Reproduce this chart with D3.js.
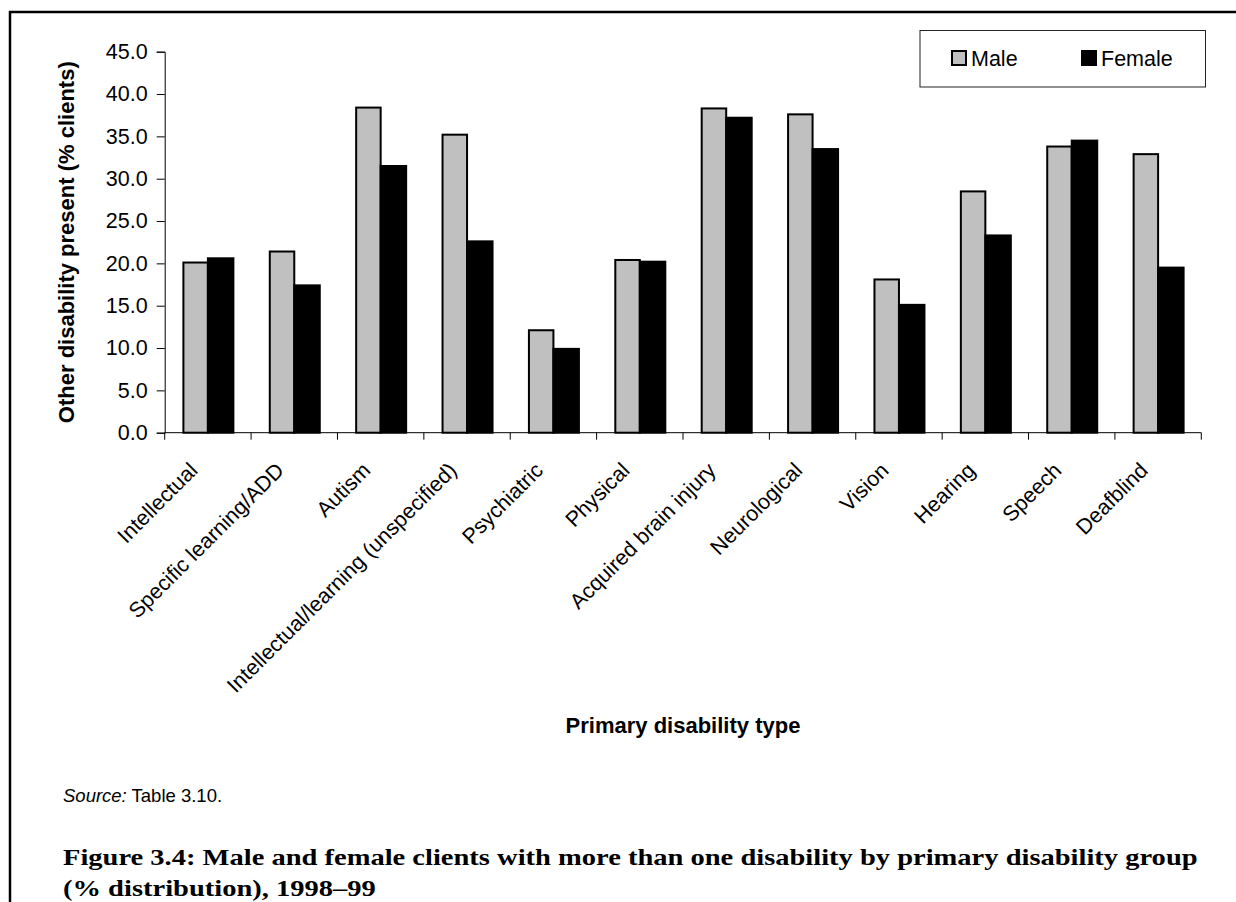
<!DOCTYPE html>
<html>
<head>
<meta charset="utf-8">
<script src="https://cdn.jsdelivr.net/npm/d3@7"></script>
<style>
  html, body { margin: 0; padding: 0; background: #fff; }
  svg text { font-family: "Liberation Sans", Arial, sans-serif; fill: #000; }
</style>
</head>
<body>
<svg id="chart" width="1236" height="902"></svg>
<script>
// Primary disability groups along the category axis
const categories = [
  "Intellectual", "Specific learning/ADD", "Autism",
  "Intellectual/learning (unspecified)", "Psychiatric", "Physical",
  "Acquired brain injury", "Neurological", "Vision", "Hearing",
  "Speech", "Deafblind"
];
// Share of clients with another disability present (%)
const maleValues   = [20.1, 21.4, 38.4, 35.2, 12.1, 20.4, 38.3, 37.6, 18.1, 28.5, 33.8, 32.9];
const femaleValues = [20.6, 17.4, 31.5, 22.6, 9.9, 20.2, 37.2, 33.5, 15.1, 23.3, 34.5, 19.5];
const seriesNames  = ["Male", "Female"];
const yTicks       = [0, 5, 10, 15, 20, 25, 30, 35, 40, 45];

const svg = d3.select("#chart");

// page frame (top and left rules)
svg.append("path")
  .attr("d", "M10,902 L10,12 L1240,12")
  .attr("fill", "none").attr("stroke", "#000").attr("stroke-width", 2.5);

const plot = { left: 164.7, right: 1201.3, top: 51.7, bottom: 432.7 };

const x0 = d3.scaleBand().domain(categories).range([plot.left, plot.right]).padding(0);
const x1 = d3.scaleBand().domain(seriesNames).range([0, x0.bandwidth()])
  .paddingInner(0).paddingOuter(0.694);
const y = d3.scaleLinear().domain([0, 45]).range([plot.bottom, plot.top]);

const fills = { Male: "#c0c0c0", Female: "#000" };
const rows = categories.map((c, i) => ({ cat: c, Male: maleValues[i], Female: femaleValues[i] }));

// bars
const groups = svg.append("g").selectAll("g").data(rows).join("g")
  .attr("transform", d => `translate(${x0(d.cat)},0)`);
groups.selectAll("rect")
  .data(d => seriesNames.map(s => ({ s, v: d[s] })))
  .join("rect")
  .attr("x", d => x1(d.s) + (d.s === "Male" ? 1 : 0))
  .attr("width", d => x1.bandwidth() - (d.s === "Male" ? 1 : 0))
  .attr("y", d => y(d.v))
  .attr("height", d => y(0) - y(d.v))
  .attr("fill", d => fills[d.s])
  .attr("stroke", "#000")
  .attr("stroke-width", 2);

// y axis
const yAxis = svg.append("g").attr("transform", `translate(${plot.left},0)`)
  .call(d3.axisLeft(y).tickValues(yTicks).tickFormat(d3.format(".1f")).tickSizeOuter(0).tickSize(8).tickPadding(9));
yAxis.selectAll("text").style("font-size", "21.5px");
yAxis.select(".domain").attr("stroke", "#000");

// x axis: ticks at category boundaries
const xg = svg.append("g");
xg.append("line")
  .attr("x1", plot.left).attr("x2", plot.right)
  .attr("y1", plot.bottom).attr("y2", plot.bottom)
  .attr("stroke", "#000");
const bounds = categories.map(c => x0(c)).concat([plot.right]);
xg.selectAll("line.tick").data(bounds).join("line")
  .attr("class", "tick")
  .attr("x1", d => d).attr("x2", d => d)
  .attr("y1", plot.bottom).attr("y2", plot.bottom + 7)
  .attr("stroke", "#000");
xg.selectAll("text").data(categories).join("text")
  .attr("transform", d => `translate(${x0(d) + x0.bandwidth() / 2 - 9},${plot.bottom + 39}) rotate(-45)`)
  .attr("text-anchor", "end")
  .style("font-size", "21.5px")
  .text(d => d);

// axis titles
svg.append("text")
  .attr("transform", `translate(74,${(plot.top + plot.bottom) / 2}) rotate(-90)`)
  .attr("text-anchor", "middle")
  .style("font-size", "22px").style("font-weight", "bold")
  .text("Other disability present (% clients)");
svg.append("text")
  .attr("x", (plot.left + plot.right) / 2).attr("y", 733)
  .attr("text-anchor", "middle")
  .style("font-size", "22px").style("font-weight", "bold")
  .text("Primary disability type");

// legend
const lg = svg.append("g");
lg.append("rect").attr("x", 920).attr("y", 30.5).attr("width", 285.5).attr("height", 56.5)
  .attr("fill", "#fff").attr("stroke", "#222").attr("stroke-width", 1);
const legendX = { Male: 952, Female: 1082 };
seriesNames.forEach(s => {
  lg.append("rect").attr("x", legendX[s]).attr("y", 51).attr("width", 14).attr("height", 14)
    .attr("fill", fills[s]).attr("stroke", "#000").attr("stroke-width", 2);
  lg.append("text").attr("x", legendX[s] + 19).attr("y", 66)
    .style("font-size", "21.5px").text(s);
});

// source note
const src = svg.append("text").attr("x", 63).attr("y", 802).style("font-size", "18.5px");
src.append("tspan").style("font-style", "italic").text("Source:");
src.append("tspan").text(" Table 3.10.");

// figure caption, two lines sharing one horizontal stretch
const capLines = [
  "Figure 3.4: Male and female clients with more than one disability by primary disability group",
  "(% distribution), 1998–99"
];
const cap = svg.append("g");
const capText = cap.selectAll("text").data(capLines).join("text")
  .attr("y", (d, i) => 865 + i * 31)
  .style("font-family", "'Liberation Serif', serif")
  .style("font-weight", "bold").style("font-size", "24px")
  .text(d => d);
const natural = capText.nodes()[0].getComputedTextLength();
const sx = 1135 / natural;
capText.attr("transform", `translate(63,0) scale(${sx},1)`);
</script>
</body>
</html>
